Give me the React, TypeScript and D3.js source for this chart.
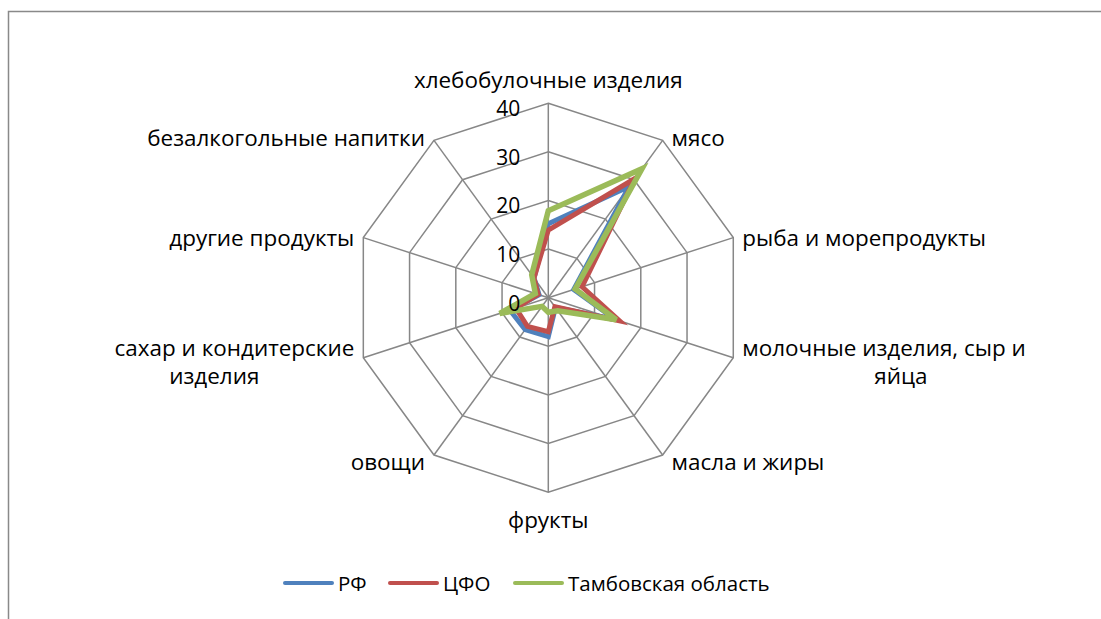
import React from "react";
import * as d3 from "d3";

// категории (оси радара), по часовой стрелке от верха
const categories = [
  "хлебобулочные изделия",
  "мясо",
  "рыба и  морепродукты",
  "молочные изделия, сыр и\nяйца",
  "масла и жиры",
  "фрукты",
  "овощи",
  "сахар и кондитерские\nизделия",
  "другие продукты",
  "безалкогольные напитки",
];

const seriesNames = ["РФ", "ЦФО", "Тамбовская область"];
const rfValues = [15.2, 28.3, 5.5, 14.5, 2.5, 8.0, 8.1, 8.3, 2.0, 5.0];
const cfoValues = [13.9, 30.3, 7.3, 15.4, 2.3, 7.0, 7.3, 7.0, 2.2, 5.0];
const tambovValues = [17.9, 32.8, 5.8, 14.7, 3.3, 3.0, 2.2, 10.5, 2.8, 5.8];
const tickValues = [0, 10, 20, 30, 40];

const colors = ["#4F81BD", "#C0504D", "#9BBB59"];
const font = "'Open Sans', 'Noto Sans', sans-serif";
const stretch = 1.07;

function App() {
  const width = 1101;
  const height = 619;
  const cx = 548.3;
  const cy = 297.7;
  const series = [rfValues, cfoValues, tambovValues];

  const r = d3.scaleLinear().domain([0, 40]).range([0, 194.5]);
  const angle = d3
    .scaleLinear()
    .domain([0, categories.length])
    .range([0, 2 * Math.PI]);

  const radar = d3
    .lineRadial<number>()
    .angle((d, i) => angle(i))
    .radius(d => r(d))
    .curve(d3.curveLinearClosed);

  const rings = tickValues.slice(1).map(t => categories.map(() => t));

  const point = (i: number, v: number) => {
    const a = angle(i);
    return [cx + Math.sin(a) * r(v), cy - Math.cos(a) * r(v)];
  };

  const stretched = (key: any, x: number, y: number, anchor: string, txt: string) => (
    <text
      key={key}
      transform={`translate(${x},${y}) scale(${stretch},1)`}
      textAnchor={anchor}
      dominantBaseline="central"
    >
      {txt}
    </text>
  );

  const renderLabel = (name: string, i: number) => {
    const a = angle(i);
    const [vx, vy] = point(i, 40);
    const lines = name.split("\n");
    const s = Math.sin(a);
    const lh = 28;
    if (Math.abs(s) < 0.01) {
      // верх / низ
      const y = Math.cos(a) > 0 ? vy - 23 : vy + 28;
      return stretched(i, vx, y, "middle", name);
    }
    const dir = s > 0 ? 1 : -1;
    const x = vx + dir * 9;
    const yMid = vy - Math.cos(a) * 6 + 2;
    const y0 = yMid - ((lines.length - 1) * lh) / 2;
    const anchor = dir > 0 ? "start" : "end";
    if (lines.length === 1) return stretched(i, x, y0, anchor, name);
    // многострочная подпись: вторая строка смещена наружу
    const w = lines[0].length * 12.4;
    const mid = x + dir * (w / 2 + 16);
    return (
      <g key={i}>
        {stretched("a", x, y0, anchor, lines[0])}
        {lines.slice(1).map((l, j) => stretched(j, mid, y0 + (j + 1) * lh, "middle", l))}
      </g>
    );
  };

  const legendX = [285, 390, 515];

  return (
    <svg
      width={width}
      height={height}
      style={{ position: "absolute", left: 0, top: 0, background: "#fff" }}
      fontFamily={font}
      fontSize={21}
      fill="#000"
    >
      <rect x={8.5} y={11.5} width={1300} height={800} fill="#fff" stroke="#898989" strokeWidth={1.5} />

      {/* сетка */}
      <g transform={`translate(${cx},${cy})`} fill="none" stroke="#878787" strokeWidth={1.5}>
        {rings.map((ring, k) => (
          <path key={k} d={radar(ring) || ""} />
        ))}
        {categories.map((c, i) => {
          const a = angle(i);
          return <line key={i} x1={0} y1={0} x2={Math.sin(a) * r(40)} y2={-Math.cos(a) * r(40)} />;
        })}
      </g>

      {/* серии */}
      <g transform={`translate(${cx},${cy})`} fill="none" strokeLinejoin="miter">
        {series.map((vals, k) => (
          <path key={k} d={radar(vals) || ""} stroke={colors[k]} strokeWidth={k === 2 ? 5.5 : 5} />
        ))}
      </g>

      {/* подписи шкалы */}
      {tickValues.map(t => (
        <text key={t} x={cx - 28} y={cy - r(t) + 5} textAnchor="end" dominantBaseline="central" fontSize={21}>
          {t}
        </text>
      ))}

      {categories.map(renderLabel)}

      {/* легенда */}
      {seriesNames.map((n, k) => (
        <g key={n}>
          <line x1={legendX[k]} x2={legendX[k] + 47} y1={583} y2={583} stroke={colors[k]} strokeWidth={4} strokeLinecap="round" />
          <text x={legendX[k] + 53} y={583} dominantBaseline="central" fontSize={20.5}>
            {n}
          </text>
        </g>
      ))}
    </svg>
  );
}

export default App;
